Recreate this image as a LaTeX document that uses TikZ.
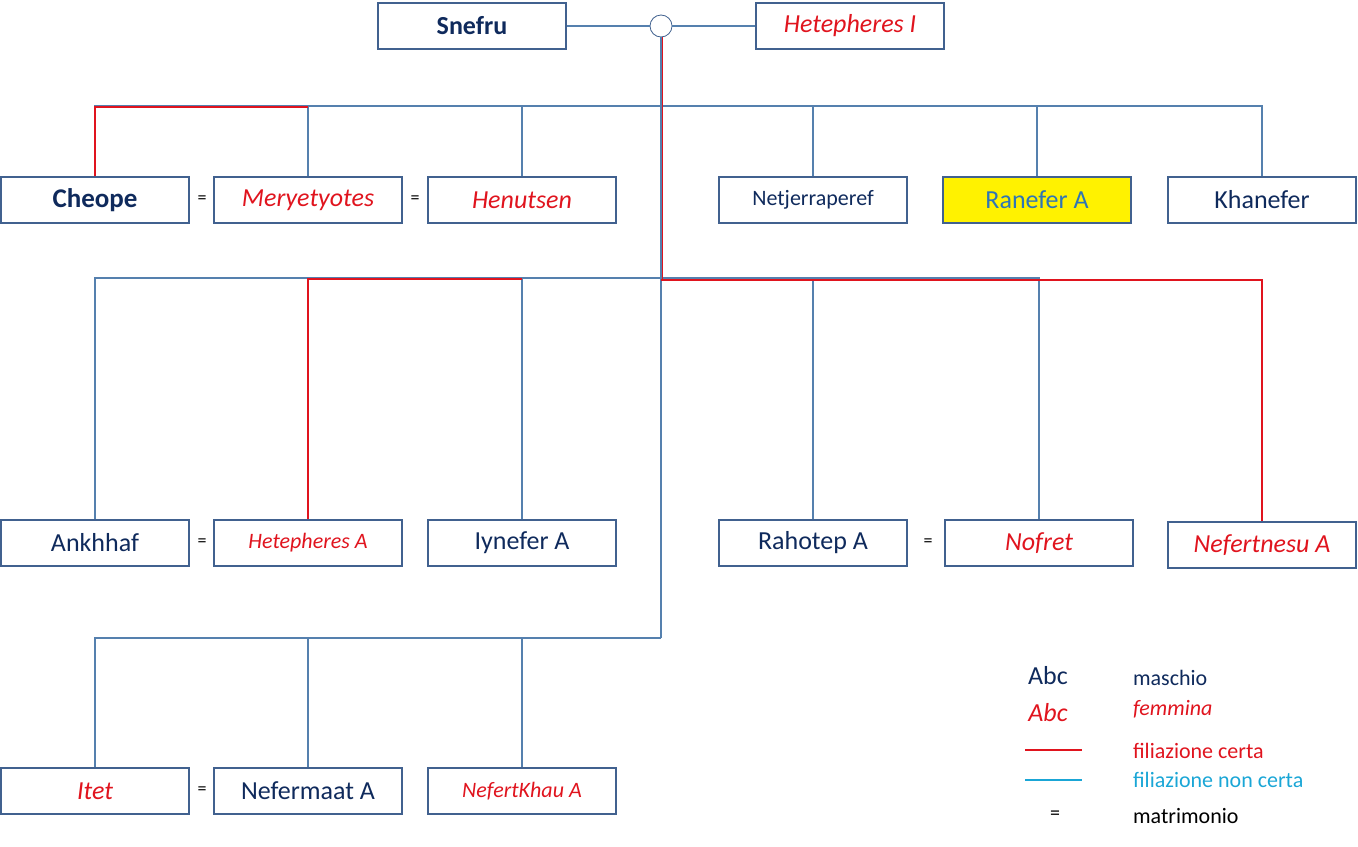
\documentclass[tikz,border=0pt]{standalone}
\usepackage{fontspec}
\setmainfont{Carlito}
\usetikzlibrary{positioning}
\definecolor{navy}{HTML}{0F2A5C}
\definecolor{fred}{HTML}{E0141E}
\definecolor{lblue}{HTML}{5580AE}
\definecolor{boxline}{HTML}{41618F}
\definecolor{cyanl}{HTML}{1AA6D6}
\tikzset{
  person/.style={draw=boxline, line width=0.6pt, minimum width=94pt, minimum height=23pt,
    inner sep=0pt, font=\fontsize{13}{15}\selectfont, text=navy},
  female/.style={person, text=fred, font=\fontsize{13}{15}\selectfont\itshape},
  eq/.style={font=\fontsize{9}{10}\selectfont, text=black},
  unsure/.style={draw=lblue, line width=0.8pt},
  sure/.style={draw=fred, line width=1.1pt},
  legend/.style={anchor=west, font=\fontsize{11}{13}\selectfont}
}
\begin{document}
\begin{tikzpicture}[x=0.5pt, y=-0.5pt]
  \useasboundingbox (0,0) rectangle (1358,846);
  % parents
  \node[person, font=\fontsize{13}{15}\selectfont\bfseries] (snefru) at (472,26) {Snefru};
  \node[female] (hetI) at (850,26) {Hetepheres I};
  \node[draw=boxline, fill=white, circle, minimum size=11pt, inner sep=0pt] (wed) at (661,26) {};
  \draw[unsure] (snefru) -- (wed) -- (hetI);

  % first generation
  \node[person, font=\fontsize{13.5}{15}\selectfont\bfseries] (cheope) at (95,200) {Cheope};
  \node[female] (meryet) at (308,200) {Meryetyotes};
  \node[female] (henut) at (522,200) {Henutsen};
  \node[person, font=\fontsize{11}{13}\selectfont] (netjer) at (813,200) {Netjerraperef};
  \node[person, fill=yellow, text={rgb,255:red,46;green,117;blue,182}] (ranefer) at (1037,200) {Ranefer A};
  \node[person] (khanefer) at (1262,200) {Khanefer};
  \node[eq] (e1) at (202,200) {=};
  \node[eq] (e2) at (415,200) {=};

  % second generation
  \node[person] (ankh) at (95,543) {Ankhhaf};
  \node[female, font=\fontsize{11}{13}\selectfont\itshape] (hetA) at (308,543) {Hetepheres A};
  \node[person] (iynef) at (522,543) {Iynefer A};
  \node[person] (rahotep) at (813,543) {Rahotep A};
  \node[female] (nofret) at (1039,543) {Nofret};
  \node[female] (nefnes) at (1262,545) {Nefertnesu A};
  \node[eq] (e3) at (202,543) {=};
  \node[eq] (e4) at (928,543) {=};

  % third generation
  \node[female] (itet) at (95,791) {Itet};
  \node[person] (nefma) at (308,791) {Nefermaat A};
  \node[female, font=\fontsize{11}{13}\selectfont\itshape] (nkhau) at (522,791) {NefertKhau A};
  \node[eq] (e5) at (202,791) {=};

  % junctions
  \coordinate (j1) at (661,106);
  \coordinate (j2) at (661,278);
  \coordinate (j3) at (661,638);

  % uncertain lines
  \draw[unsure] (wed) -- (j3);
  \draw[unsure] (j1) -| (khanefer.north);
  \draw[unsure] (j1) -| (cheope.north);
  \foreach \n in {meryet,henut,netjer,ranefer}
    \draw[unsure] (\n.north) |- (j1);
  \draw[unsure] (j2) -| (ankh.north);
  \draw[unsure] (j2) -| (nofret.north);
  \foreach \n in {iynef,rahotep}
    \draw[unsure] (\n.north) |- (j2);
  \draw[unsure] (j3) -| (itet.north);
  \foreach \n in {nefma,nkhau}
    \draw[unsure] (\n.north) |- (j3);

  % certain lines
  \draw[sure] (cheope.north) |- (308,107);
  \draw[sure] (hetA.north) |- (522,279);
  \draw[sure] (661,280) -| (nefnes.north);
  \draw[fred, line width=0.5pt] (662,37) -- (662,280);

  % legend
  \node[text=navy, font=\fontsize{13}{15}\selectfont] (lm) at (1048,676) {Abc};
  \node[text=fred, font=\fontsize{13}{15}\selectfont\itshape] (lf) at (1048,713) {Abc};
  \coordinate (rs) at (1025,750); \coordinate (re) at (1082,750);
  \coordinate (bs) at (1025,780); \coordinate (be) at (1082,780);
  \draw[sure] (rs) -- (re);
  \draw[draw=cyanl, line width=1.1pt] (bs) -- (be);
  \node[eq, font=\fontsize{10}{11}\selectfont] (le) at (1055,815) {=};
  \node[legend, text=navy] (tm) at (1126,678) {maschio};
  \node[legend, text=fred, font=\fontsize{11}{13}\selectfont\itshape] (tf) at (1126,709) {femmina};
  \node[legend, text=fred] (tc) at (1126,751) {filiazione certa};
  \node[legend, text=cyanl] (tn) at (1126,780) {filiazione non certa};
  \node[legend, text=black] (tx) at (1126,816) {matrimonio};
\end{tikzpicture}
\end{document}
